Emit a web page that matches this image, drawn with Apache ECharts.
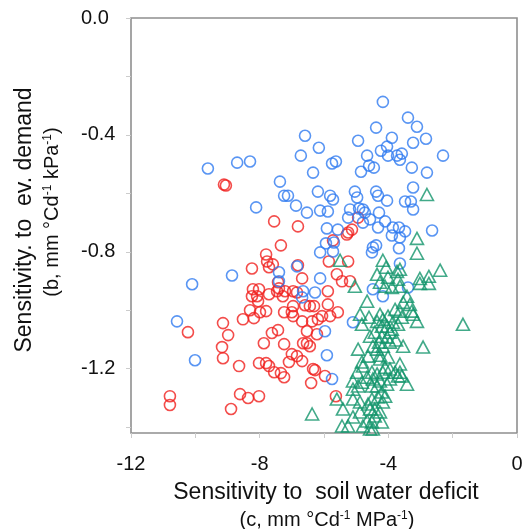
<!DOCTYPE html>
<html>
<head>
<meta charset="utf-8">
<script src="https://cdn.jsdelivr.net/npm/echarts@6.0.0/dist/echarts.min.js"></script>
<style>
  html, body { margin: 0; padding: 0; background: #fff; }
  #chart { width: 528px; height: 529px; }
</style>
</head>
<body>
<div id="chart"></div>
<script>
// Axis ticks and labels
const xTicks = [-12, -10, -8, -6, -4, -2, 0];
const xLabels = [-12, -8, -4, 0];
const yTicks = [0, -0.2, -0.4, -0.6, -0.8, -1.0, -1.2, -1.4];
const yLabels = [0, -0.4, -0.8, -1.2];

// Sensitivity pairs [c, b] per group
const blueData = [
  [-9.61,-0.515],[-8.70,-0.495],[-8.30,-0.491],[-8.11,-0.648],[-7.37,-0.560],[-7.24,-0.608],
  [-7.12,-0.608],[-6.87,-0.642],[-6.72,-0.471],[-6.59,-0.403],[-6.16,-0.444],[-6.34,-0.529],
  [-6.19,-0.594],[-5.81,-0.608],[-5.72,-0.621],[-5.63,-0.491],[-5.75,-0.498],[-6.53,-0.666],
  [-6.12,-0.659],[-5.88,-0.662],[-5.91,-0.720],[-5.57,-0.724],[-5.94,-0.771],[-5.69,-0.768],
  [-6.12,-0.802],[-5.72,-0.799],[-5.25,-0.683],[-5.19,-0.655],[-5.04,-0.594],[-4.97,-0.614],
  [-4.94,-0.420],[-4.91,-0.652],[-4.79,-0.655],[-4.73,-0.666],[-4.85,-0.526],[-4.66,-0.471],
  [-4.60,-0.505],[-4.45,-0.512],[-4.38,-0.375],[-4.38,-0.594],[-4.32,-0.608],[-4.23,-0.454],
  [-4.04,-0.440],[-4.01,-0.471],[-4.17,-0.287],[-3.89,-0.410],[-3.73,-0.471],[-4.04,-0.625],
  [-4.57,-0.689],[-4.79,-0.700],[-4.29,-0.666],[-4.10,-0.696],[-4.32,-0.717],[-3.86,-0.717],
  [-3.67,-0.717],[-3.48,-0.730],[-3.89,-0.744],[-3.64,-0.751],[-4.38,-0.778],[-4.48,-0.785],
  [-3.67,-0.788],[-3.64,-0.840],[-4.51,-0.802],[-3.39,-0.341],[-3.11,-0.372],[-2.83,-0.413],
  [-3.23,-0.427],[-2.30,-0.471],[-3.58,-0.464],[-3.64,-0.485],[-3.27,-0.512],[-2.80,-0.529],
  [-3.23,-0.580],[-3.48,-0.628],[-3.30,-0.628],[-3.23,-0.655],[-2.64,-0.727],[-8.86,-0.881],
  [-10.10,-0.911],[-10.57,-1.038],[-10.01,-1.171],[-7.40,-0.870],[-7.40,-0.901],[-6.84,-0.850],
  [-6.65,-0.935],[-6.68,-0.956],[-6.12,-0.891],[-6.28,-0.939],[-4.48,-0.928],[-4.17,-0.952],
  [-3.39,-0.922],[-5.10,-1.041],[-5.97,-1.072],[-5.91,-1.154],[-5.75,-1.235]
];

const redData = [
  [-9.05,-0.573],[-9.11,-0.570],[-7.55,-0.696],[-6.81,-0.713],[-7.34,-0.778],[-7.80,-0.809],
  [-7.77,-0.833],[-7.71,-0.853],[-7.59,-0.843],[-8.24,-0.857],[-6.81,-0.846],[-6.68,-0.891],
  [-8.21,-0.928],[-8.02,-0.928],[-7.46,-0.935],[-7.40,-0.925],[-8.24,-0.952],[-8.08,-0.952],
  [-7.71,-0.945],[-7.28,-0.952],[-6.96,-0.935],[-6.84,-0.939],[-8.05,-0.969],[-6.96,-0.986],
  [-6.59,-0.983],[-6.44,-0.986],[-6.31,-0.986],[-8.30,-1.000],[-7.99,-1.007],[-7.80,-1.003],
  [-7.24,-1.007],[-7.00,-1.007],[-6.96,-1.020],[-6.68,-1.038],[-6.37,-1.038],[-8.52,-1.031],
  [-8.18,-1.027],[-9.14,-1.044],[-10.23,-1.075],[-8.98,-1.085],[-7.62,-1.078],[-7.43,-1.068],
  [-6.53,-1.072],[-6.22,-1.082],[-9.17,-1.126],[-7.87,-1.113],[-7.24,-1.116],[-6.65,-1.113],
  [-6.53,-1.113],[-6.44,-1.123],[-9.14,-1.164],[-8.64,-1.191],[-8.02,-1.181],[-7.80,-1.181],
  [-7.71,-1.191],[-7.55,-1.212],[-7.34,-1.215],[-7.24,-1.229],[-7.09,-1.177],[-7.00,-1.150],
  [-6.84,-1.157],[-6.68,-1.174],[-6.34,-1.201],[-6.28,-1.205],[-6.40,-1.249],[-10.79,-1.294],
  [-10.79,-1.324],[-8.61,-1.287],[-8.36,-1.300],[-8.02,-1.294],[-8.89,-1.338],[-5.85,-0.833],
  [-5.25,-0.833],[-5.60,-0.877],[-5.44,-0.901],[-5.19,-0.901],[-7.21,-0.935],[-5.88,-0.935],
  [-5.88,-0.980],[-5.57,-1.007],[-6.19,-1.031],[-6.06,-1.020],[-5.81,-1.020],[-5.97,-1.225],
  [-5.63,-1.294],[-4.94,-0.683],[-5.13,-0.724],[-5.25,-0.734],[-5.29,-0.741],[-5.72,-0.761],
  [-7.43,-0.904]
];

const greenData = [
  [-2.80,-0.604],[-3.11,-0.754],[-3.11,-0.805],[-5.50,-0.829],[-4.17,-0.829],[-2.39,-0.863],
  [-3.02,-0.891],[-2.74,-0.884],[-2.74,-0.908],[-3.02,-0.908],[-4.07,-0.853],[-4.35,-0.877],
  [-3.73,-0.867],[-3.64,-0.860],[-4.01,-0.887],[-4.26,-0.904],[-4.10,-0.918],[-3.89,-0.922],
  [-3.64,-0.918],[-3.70,-0.894],[-5.04,-0.918],[-4.66,-0.969],[-3.42,-0.952],[-3.54,-0.973],
  [-3.33,-0.980],[-3.27,-1.003],[-3.64,-1.003],[-3.79,-0.997],[-3.58,-1.024],[-3.11,-1.038],
  [-3.23,-1.014],[-1.68,-1.048],[-4.26,-1.014],[-4.17,-1.031],[-4.01,-1.020],[-4.35,-1.038],
  [-4.20,-1.055],[-4.04,-1.055],[-3.86,-1.041],[-3.70,-1.048],[-3.89,-1.065],[-4.57,-1.089],
  [-4.42,-1.075],[-4.20,-1.089],[-4.04,-1.092],[-4.29,-1.109],[-4.17,-1.123],[-4.48,-1.123],
  [-3.95,-1.109],[-3.54,-1.123],[-2.92,-1.126],[-4.01,-1.160],[-4.35,-1.133],[-4.26,-1.154],
  [-4.10,-1.195],[-3.64,-1.184],[-3.79,-1.212],[-3.70,-1.225],[-3.95,-1.235],[-4.35,-1.218],
  [-4.48,-1.235],[-4.26,-1.242],[-4.04,-1.253],[-3.42,-1.253],[-3.58,-1.225],[-4.35,-1.259],
  [-4.20,-1.280],[-4.10,-1.294],[-4.32,-1.297],[-4.17,-1.314],[-4.51,-1.304],[-4.57,-1.338],
  [-4.42,-1.362],[-4.26,-1.348],[-4.20,-1.382],[-4.51,-1.382],[-4.88,-1.014],[-4.60,-1.024],
  [-4.82,-1.048],[-4.94,-1.133],[-4.63,-1.157],[-4.79,-1.191],[-4.97,-1.212],[-4.66,-1.229],
  [-4.82,-1.246],[-5.10,-1.270],[-4.51,-1.259],[-4.26,-1.167],[-4.82,-1.177],[-5.10,-1.242],
  [-4.94,-1.259],[-4.51,-1.212],[-4.17,-1.212],[-3.95,-1.201],[-5.10,-1.304],[-5.41,-1.338],
  [-4.88,-1.348],[-4.63,-1.321],[-4.42,-1.338],[-5.10,-1.365],[-4.66,-1.379],[-4.57,-1.406],
  [-5.44,-1.396],[-6.37,-1.355],[-5.60,-1.304],[-4.88,-1.314],[-5.25,-1.396],[-4.79,-1.396],
  [-4.48,-1.406],[-3.76,-1.102],[-3.95,-1.075],[-3.64,-1.212]
];

const FONT = '"Liberation Sans", Arial, sans-serif';
const chart = echarts.init(document.getElementById('chart'), null, { renderer: 'canvas' });

function hollow(color) {
  return { color: 'rgba(0,0,0,0)', borderColor: color, borderWidth: 1.6 };
}

chart.setOption({
  animation: false,
  backgroundColor: '#fff',
  grid: { left: 131, right: 11, top: 18, bottom: 96, show: true, borderColor: '#8f8f8f', borderWidth: 1.6 },
  xAxis: {
    type: 'value', min: -12, max: 0,
    axisLine: { show: false, onZero: false },
    splitLine: { show: false },
    axisTick: { show: true, customValues: xTicks, length: 5, lineStyle: { color: '#ccc', width: 1 } },
    axisLabel: { customValues: xLabels, margin: 21, fontSize: 20, color: '#111', fontFamily: FONT }
  },
  yAxis: {
    type: 'value', min: -1.42, max: 0,
    axisLine: { show: false, onZero: false },
    splitLine: { show: false },
    axisTick: { show: true, customValues: yTicks, length: 5, lineStyle: { color: '#ccc', width: 1 } },
    axisLabel: {
      customValues: yLabels, margin: 50, align: 'left', fontSize: 20, color: '#111', fontFamily: FONT,
      formatter: v => Number(v).toFixed(1)
    }
  },
  series: [
    { type: 'scatter', data: redData, symbol: 'circle', symbolSize: 11, itemStyle: hollow('#f0201e') },
    { type: 'scatter', data: blueData, symbol: 'circle', symbolSize: 11, itemStyle: hollow('#2f7af0') },
    { type: 'scatter', data: greenData, symbol: 'triangle', symbolSize: [13, 12], itemStyle: hollow('#13956b') }
  ],
  graphic: [
    { type: 'text', x: 326, y: 493,
      style: { text: 'Sensitivity to  soil water deficit', fontSize: 23, fontFamily: FONT, fill: '#111',
               align: 'center', verticalAlign: 'middle' } },
    { type: 'text', x: 327, y: 520,
      style: { text: '(c, mm °Cd{sup|-1} MPa{sup|-1})', fontSize: 20, fontFamily: FONT, fill: '#111',
               align: 'center', verticalAlign: 'middle',
               rich: { sup: { fontSize: 12, fontFamily: FONT, fill: '#111', verticalAlign: 'top' } } } },
    { type: 'text', x: 25, y: 220, rotation: Math.PI / 2,
      style: { text: 'Sensitivity. to  ev. demand', fontSize: 23, fontFamily: FONT, fill: '#111',
               align: 'center', verticalAlign: 'middle' } },
    { type: 'text', x: 52, y: 212, rotation: Math.PI / 2,
      style: { text: '(b, mm °Cd{sup|-1} kPa{sup|-1})', fontSize: 20, fontFamily: FONT, fill: '#111',
               align: 'center', verticalAlign: 'middle',
               rich: { sup: { fontSize: 12, fontFamily: FONT, fill: '#111', verticalAlign: 'top' } } } }
  ]
});
</script>
</body>
</html>
